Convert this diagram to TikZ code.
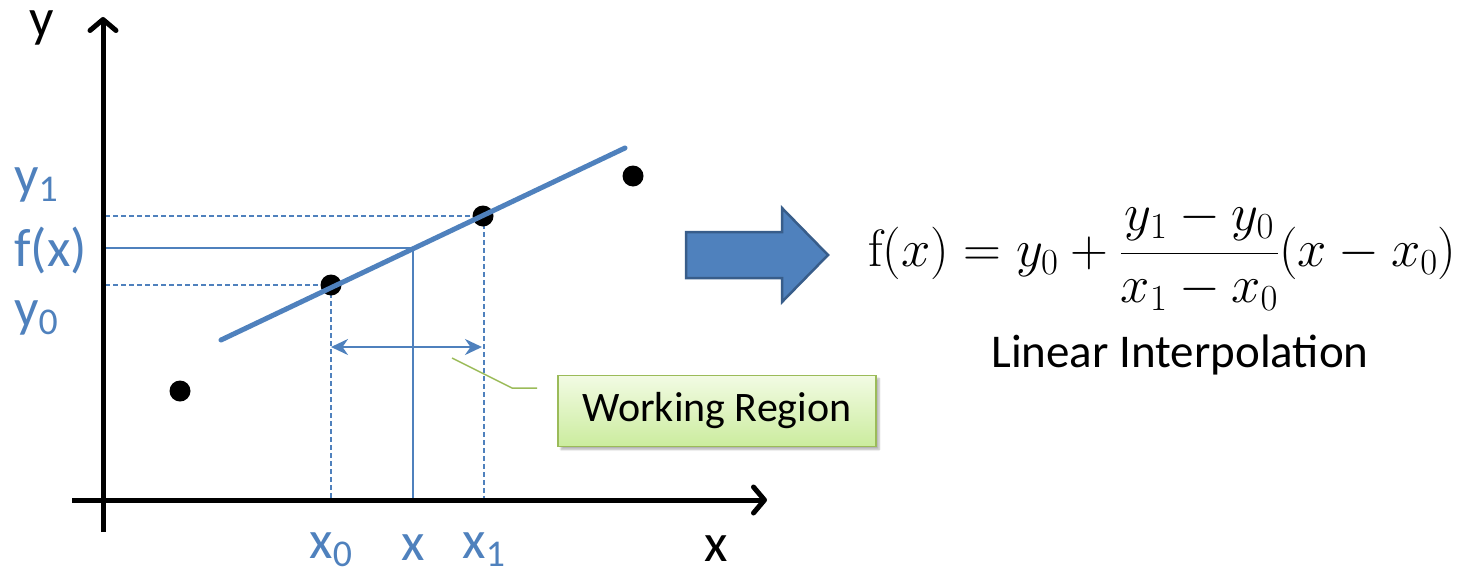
\RequirePackage{fix-cm}
\documentclass[tikz,border=0pt]{standalone}
\usepackage[no-math]{fontspec}
\setmainfont{Carlito}
\usetikzlibrary{arrows.meta,shadows.blur}
\definecolor{blu}{HTML}{4F81BD}
\definecolor{darkblu}{HTML}{385D8A}
\definecolor{grn}{HTML}{9BBB59}
\definecolor{gtop}{HTML}{F2FBE3}
\definecolor{gbot}{HTML}{CBEC9E}
\begin{document}
\begin{tikzpicture}[x=1pt,y=-1pt,
  axis/.style={line width=5pt,-{Straight Barb[length=11pt,width=26pt,line cap=round,line join=round]}},
  dot/.style={circle,fill=black,minimum size=21pt,inner sep=0pt},
  fitline/.style={blu,line width=5pt,line cap=round},
  guide/.style={blu,line width=1.4pt,dash pattern=on 5pt off 3pt},
  solidguide/.style={blu,line width=1.4pt},
  span/.style={blu,line width=2.5pt,{Stealth[length=17pt,width=16pt]}-{Stealth[length=17pt,width=16pt]}},
  callout/.style={grn,line width=1.5pt},
  wbox/.style={draw=grn,line width=1.5pt,top color=gtop,bottom color=gbot,minimum width=318pt,minimum height=71pt,
    font=\fontsize{42}{50}\selectfont,blur shadow={shadow blur steps=5,shadow xshift=3pt,shadow yshift=-3pt,shadow opacity=30}},
  bluelab/.style={text=blu,inner sep=0pt,font=\fontsize{54}{60}\selectfont},
  blacklab/.style={text=black,inner sep=0pt,font=\fontsize{54}{60}\selectfont},
  bigarrow/.style={fill=blu,draw=darkblu,line width=2.5pt,line join=miter}
]
\useasboundingbox (0,0) rectangle (1466,573);

% axis coordinates
\coordinate (yb) at (103,532);
\coordinate (yt) at (103,17);
\coordinate (xl) at (72,500);
\coordinate (xr) at (767,500);

% guide coordinates
\coordinate (y1a) at (105,216);
\coordinate (y0a) at (105,285);
\coordinate (fxa) at (105,248);
\coordinate (fx) at (413,248);
\coordinate (x0b) at (331,500);
\coordinate (xb) at (413,500);
\coordinate (x1b) at (484,500);
\coordinate (p1v) at (484,216);

% points
\coordinate (c0) at (180,391);
\coordinate (c1) at (331,285);
\coordinate (c2) at (483,216);
\coordinate (c3) at (633,176);

% guides
\draw[guide] (y1a) -- (c2);
\draw[guide] (y0a) -- (c1);
\draw[guide] (c1) -- (x0b);
\draw[guide] (p1v) -- (x1b);
\draw[solidguide] (fxa) -- (fx) -- (xb);

% axes
\draw[axis] (yb) -- (yt);
\draw[axis] (xl) -- (xr);

% fit line
\coordinate (la) at (221,340);
\coordinate (lb) at (625,148);

% dots
\node[dot] (p0) at (c0) {};
\node[dot] (p1) at (c1) {};
\node[dot] (p2) at (c2) {};
\node[dot] (p3) at (c3) {};
\draw[fitline] (la) -- (lb);

% working region span
\coordinate (sa) at (331,347);
\coordinate (sb) at (482,347);
\draw[span] (sa) -- (sb);

% callout
\coordinate (ca) at (452,358);
\coordinate (cb) at (512,388);
\coordinate (cc) at (537,388);
\draw[callout] (ca) -- (cb) -- (cc);
\node[wbox] (wr) at (717,411) {Working Region};

% axis labels
\node[blacklab] (ylab) at (42,28) {y};
\node[blacklab] (xlab) at (716,549) {x};
\node[bluelab,anchor=west] (y1) at (14,185) {y\textsubscript{1}};
\node[bluelab,anchor=west] (fxl) at (14,250) {f(x)};
\node[bluelab,anchor=west] (y0) at (14,318) {y\textsubscript{0}};
\node[bluelab] (x0l) at (331,550) {x\textsubscript{0}};
\node[bluelab] (xl2) at (413,548) {x};
\node[bluelab] (x1l) at (484,550) {x\textsubscript{1}};

% big arrow
\draw[bigarrow] (686,232) -- (782,232) -- (782,208) -- (828,255) -- (782,302) -- (782,278) -- (686,278) -- cycle;

% formula
\node[inner sep=0pt,anchor=west,font=\fontsize{52.5}{60}\selectfont] (eq) at (868,255)
  {$\mathrm{f}(x) = y_0 + \displaystyle\frac{y_1 - y_0}{x_1 - x_0}(x - x_0)$};
\node[font=\fontsize{47}{54}\selectfont] (li) at (1180,355) {Linear Interpolation};
\end{tikzpicture}
\end{document}
